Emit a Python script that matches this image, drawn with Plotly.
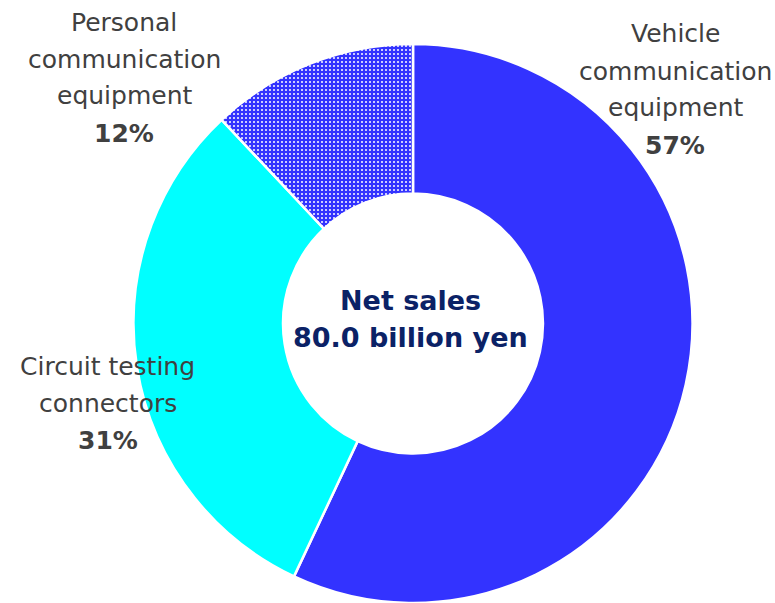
import plotly.graph_objects as go

# Segment data
segments = ["Vehicle communication equipment", "Circuit testing connectors", "Personal communication equipment"]
shares = [57, 31, 12]
label_lines = [
    ["Vehicle", "communication", "equipment"],
    ["Circuit testing", "connectors"],
    ["Personal", "communication", "equipment"],
]
center_lines = ["Net sales", "80.0 billion yen"]

W, H = 775, 603
FONT = "DejaVu Sans"
GREY = "#404040"
NAVY = "#0B2266"

fig = go.Figure(go.Pie(
    labels=segments,
    values=shares,
    sort=False,
    direction="clockwise",
    rotation=0,
    hole=0.465,
    textinfo="none",
    hoverinfo="label+percent",
    marker=dict(
        colors=["#3333FF", "#00FFFF", "#3333FF"],
        line=dict(color="white", width=2.5),
        pattern=dict(
            shape=["", "", "."],
            fgcolor="white",
            bgcolor="#3333FF",
            size=4,
            solidity=0.2,
        ),
    ),
    domain=dict(x=[(413 - 300) / W, (413 + 300) / W], y=[0, 0.927]),
    showlegend=False,
))

# Label block anchors (center x, top line center y in px from top), line pitch in px
anchors = [(675, 34), (108, 366), (124, 22)]
pitch = 37

annotations = []
for lines, share, (cx, cy) in zip(label_lines, shares, anchors):
    for i, line in enumerate(lines + [f"<b>{share}%</b>"]):
        annotations.append(dict(
            x=cx / W, y=1 - (cy + i * pitch) / H,
            xref="paper", yref="paper",
            text=line, showarrow=False,
            xanchor="center", yanchor="middle",
            font=dict(family=FONT, size=25, color=GREY),
        ))

for i, line in enumerate(center_lines):
    annotations.append(dict(
        x=410 / W, y=1 - (300 + i * 37) / H,
        xref="paper", yref="paper",
        text=f"<b>{line}</b>", showarrow=False,
        xanchor="center", yanchor="middle",
        font=dict(family=FONT, size=27, color=NAVY),
    ))

fig.update_layout(
    width=W, height=H,
    margin=dict(l=0, r=0, t=0, b=0),
    paper_bgcolor="white",
    plot_bgcolor="white",
    annotations=annotations,
)

fig.write_html("out.html")
